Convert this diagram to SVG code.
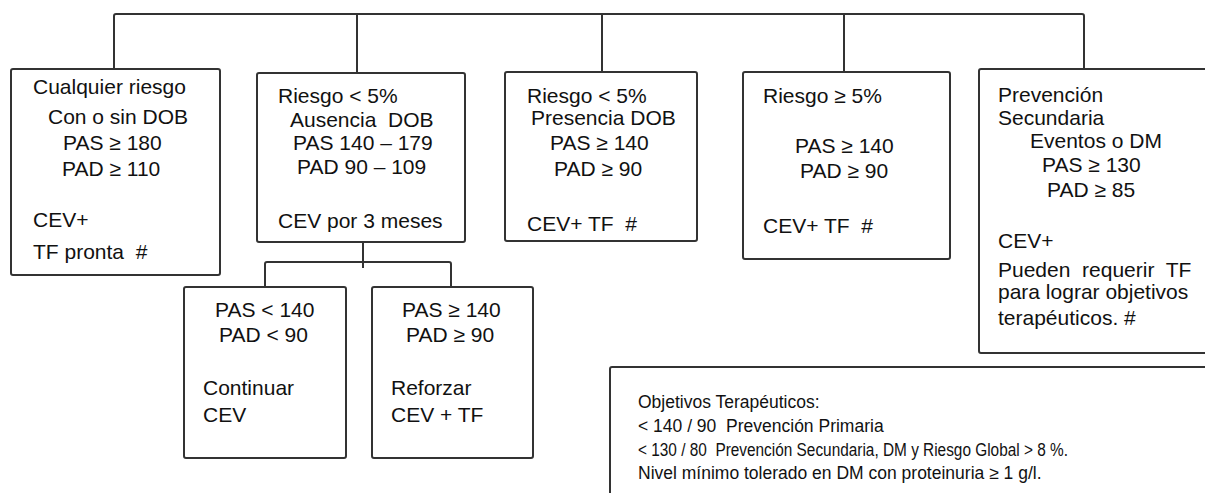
<svg xmlns="http://www.w3.org/2000/svg" width="1205" height="493" viewBox="0 0 1205 493">
<style>
.box{fill:#fff;stroke:#333;stroke-width:2}
.ln{fill:none;stroke:#333;stroke-width:2;stroke-linejoin:round}
text{font-family:"Liberation Sans",Arial,sans-serif;font-size:21px;fill:#111}
.sm{font-size:17.5px}
</style>
<rect width="1205" height="493" fill="#fff"/>
<g id="connectors">
<path class="ln" d="M114,69 V16 Q114,14 116,14 H1082 Q1084,14 1084,16 V69"/>
<path class="ln" d="M357,14 V73 M602,14 V72 M844,14 V72"/>
<path class="ln" d="M363,242 V268"/>
<path class="ln" d="M265,287 V264 Q265,262 267,262 H449 Q451,262 451,264 V287"/>
</g>
<g id="n1">
<rect class="box" x="11" y="69" width="209" height="206" rx="2"/>
<text x="33" y="94">Cualquier riesgo</text>
<text x="48" y="124">Con o sin DOB</text>
<text x="63" y="150">PAS ≥ 180</text>
<text x="62" y="176">PAD ≥ 110</text>
<text x="33" y="227">CEV+</text>
<text x="33" y="259" xml:space="preserve">TF pronta  #</text>
</g>
<g id="n2">
<rect class="box" x="257" y="73" width="208" height="169" rx="2"/>
<text x="278" y="103">Riesgo &lt; 5%</text>
<text x="290" y="127" xml:space="preserve">Ausencia  DOB</text>
<text x="293" y="150">PAS 140 – 179</text>
<text x="297" y="174">PAD 90 – 109</text>
<text x="278" y="228">CEV por 3 meses</text>
</g>
<g id="n3">
<rect class="box" x="505" y="72" width="192" height="169" rx="2"/>
<text x="527" y="103">Riesgo &lt; 5%</text>
<text x="531" y="125">Presencia DOB</text>
<text x="550" y="150">PAS ≥ 140</text>
<text x="554" y="176">PAD ≥ 90</text>
<text x="527" y="231" xml:space="preserve">CEV+ TF  #</text>
</g>
<g id="n4">
<rect class="box" x="743" y="72" width="207" height="187" rx="2"/>
<text x="763" y="103">Riesgo ≥ 5%</text>
<text x="795" y="153">PAS ≥ 140</text>
<text x="800" y="178">PAD ≥ 90</text>
<text x="763" y="233" xml:space="preserve">CEV+ TF  #</text>
</g>
<g id="n5">
<rect class="box" x="979" y="69" width="240" height="284" rx="2"/>
<text x="998" y="102">Prevención</text>
<text x="998" y="125">Secundaria</text>
<text x="1030" y="148">Eventos o DM</text>
<text x="1042" y="172">PAS ≥ 130</text>
<text x="1047" y="197">PAD ≥ 85</text>
<text x="998" y="248">CEV+</text>
<text x="998" y="277" xml:space="preserve">Pueden  requerir  TF</text>
<text x="998" y="299">para lograr objetivos</text>
<text x="998" y="325">terapéuticos. #</text>
</g>
<g id="n6">
<rect class="box" x="184" y="287" width="162" height="171" rx="2"/>
<text x="215" y="317">PAS &lt; 140</text>
<text x="219" y="342">PAD &lt; 90</text>
<text x="203" y="395">Continuar</text>
<text x="203" y="422">CEV</text>
</g>
<g id="n7">
<rect class="box" x="372" y="287" width="161" height="171" rx="2"/>
<text x="402" y="317">PAS ≥ 140</text>
<text x="406" y="342">PAD ≥ 90</text>
<text x="391" y="395">Reforzar</text>
<text x="391" y="422">CEV + TF</text>
</g>
<g id="n8">
<rect class="box" x="610" y="367" width="610" height="140" rx="2"/>
<text class="sm" x="638" y="408">Objetivos Terapéuticos:</text>
<text class="sm" x="638" y="432" xml:space="preserve">&lt; 140 / 90  Prevención Primaria</text>
<text class="sm" x="638" y="456" xml:space="preserve" textLength="430" lengthAdjust="spacingAndGlyphs">&lt; 130 / 80  Prevención Secundaria, DM y Riesgo Global &gt; 8 %.</text>
<text class="sm" x="638" y="479">Nivel mínimo tolerado en DM con proteinuria ≥ 1 g/l.</text>
</g>
</svg>
